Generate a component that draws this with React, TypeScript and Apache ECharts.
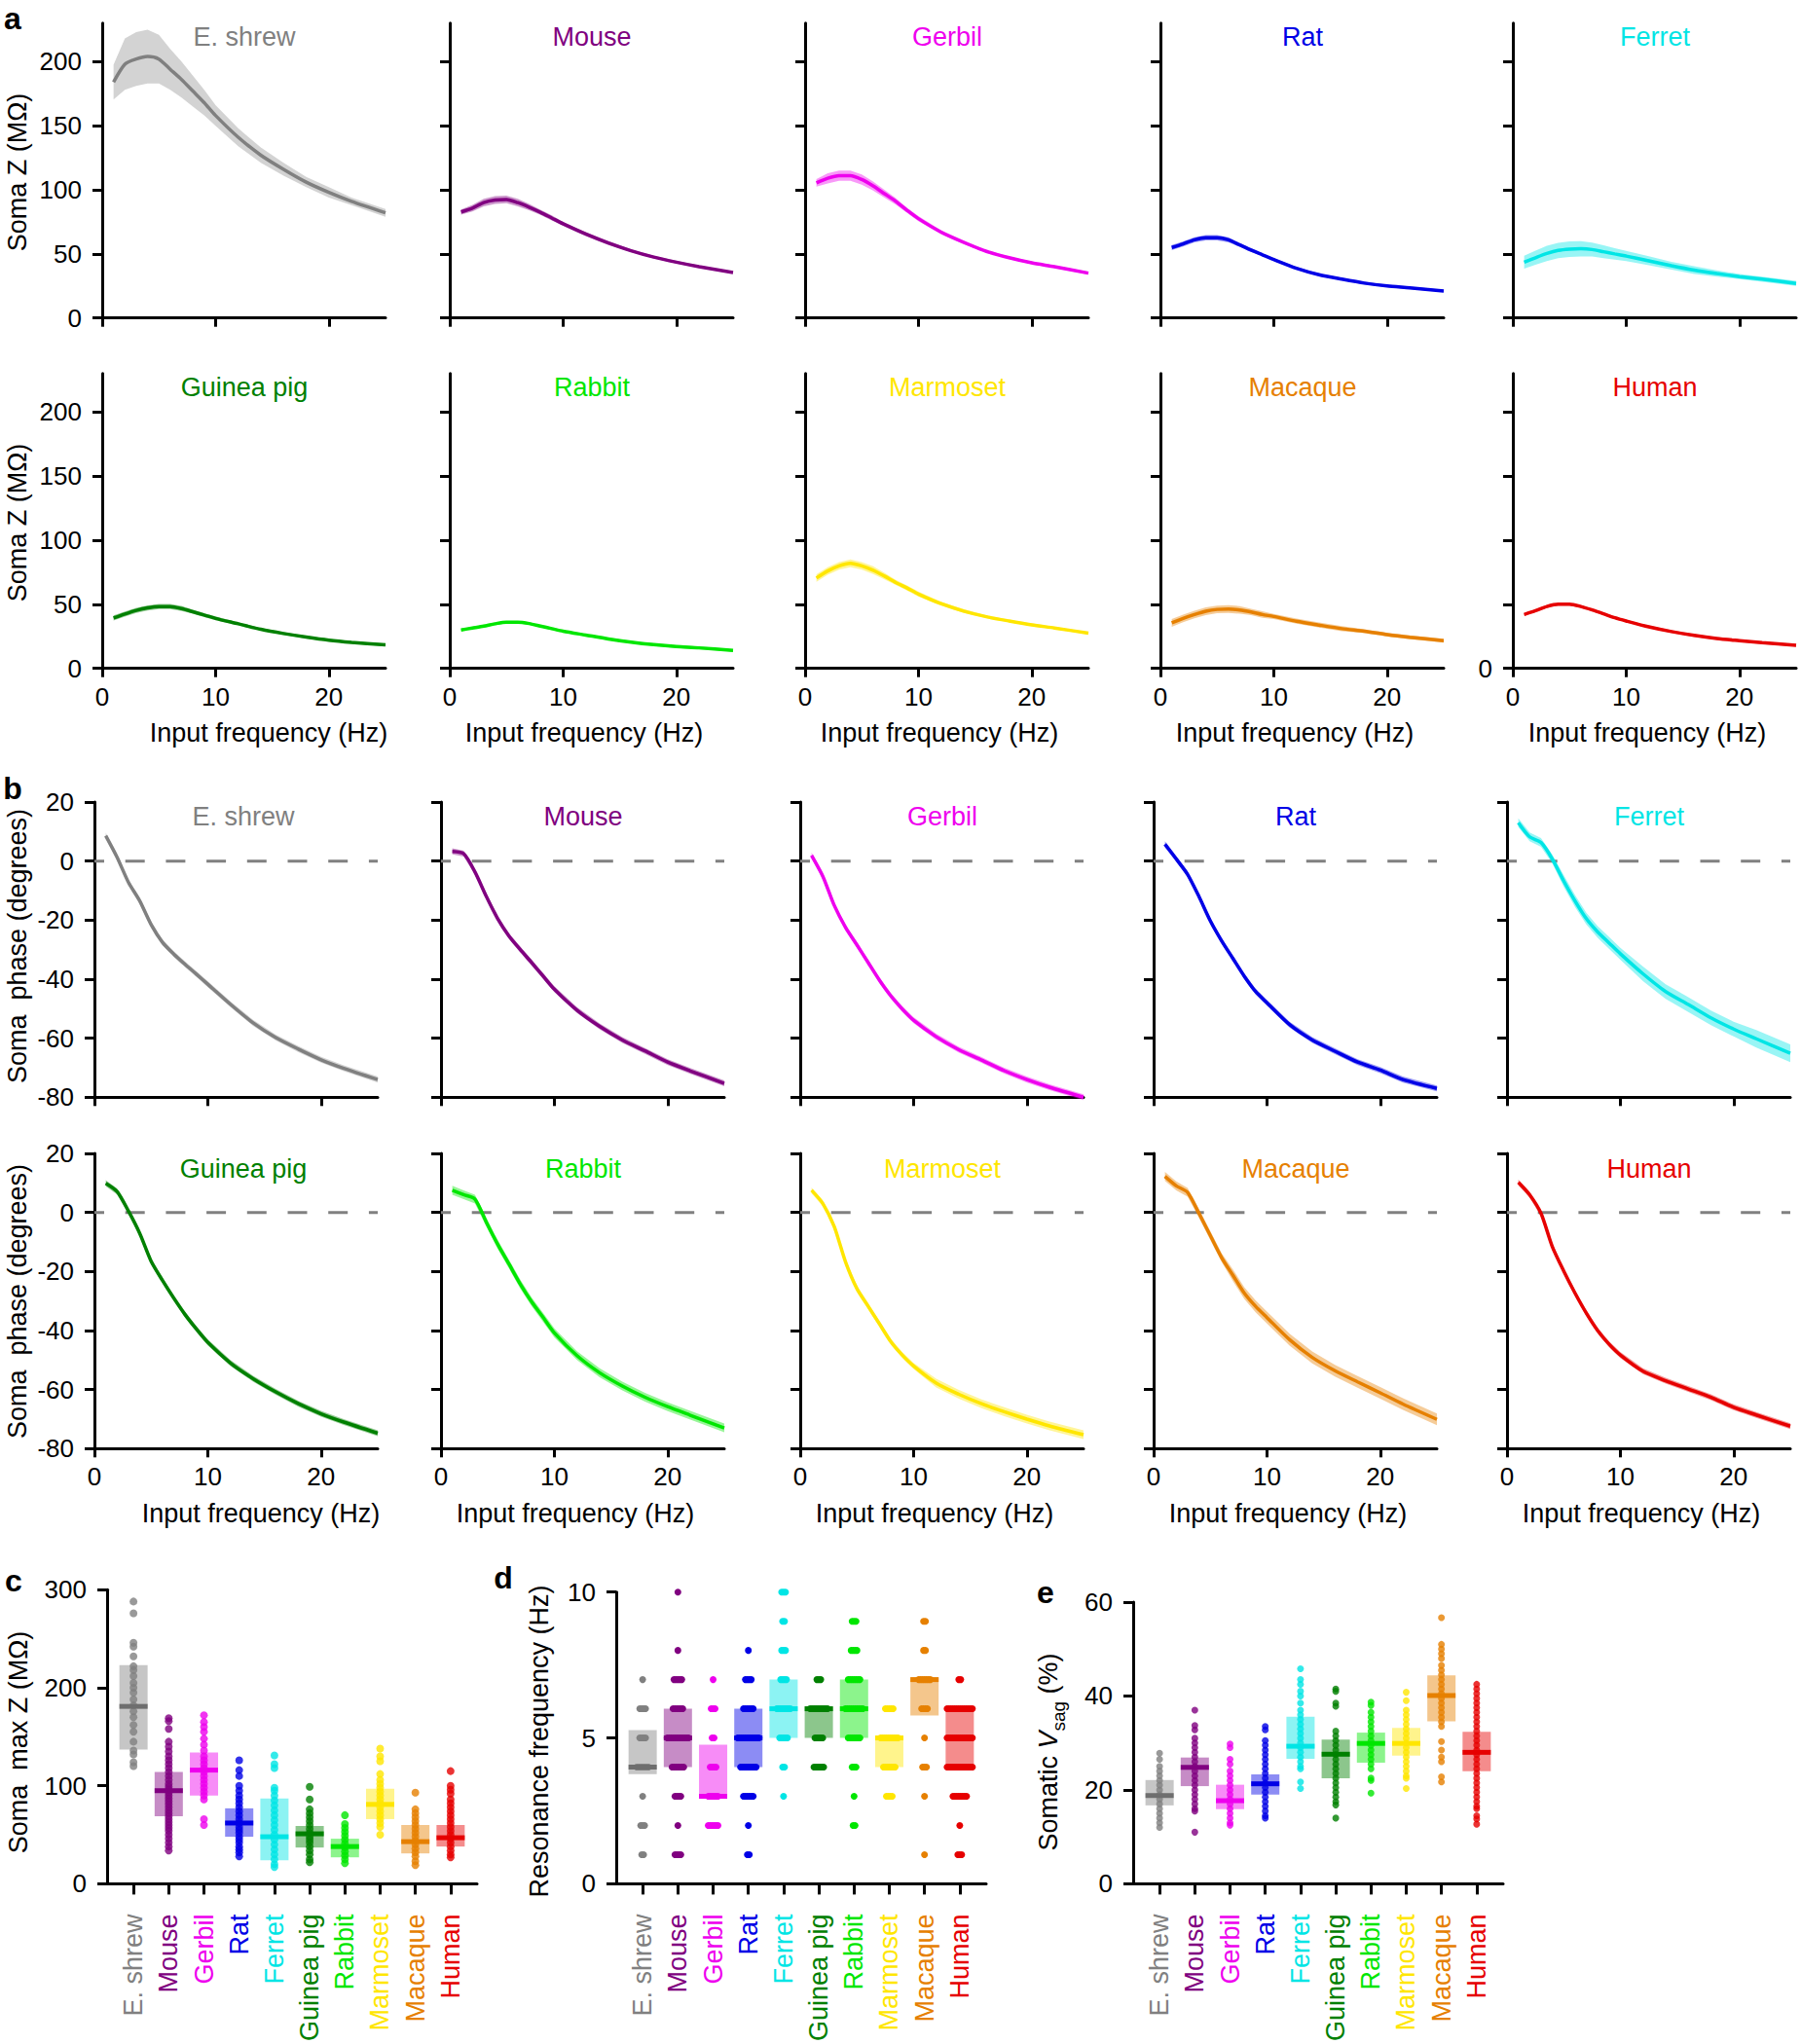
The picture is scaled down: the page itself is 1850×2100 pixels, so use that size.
import React, { useEffect, useRef } from "react";
import * as echarts from "echarts";

// ---------- categories ----------
const SPECIES = ["E. shrew", "Mouse", "Gerbil", "Rat", "Ferret", "Guinea pig", "Rabbit", "Marmoset", "Macaque", "Human"];
const COLORS = ["#808080", "#800080", "#ee00ee", "#0000e6", "#00e5e5", "#008000", "#00e600", "#ffe600", "#e68000", "#e60000"];
const FREQ = [1, 2, 3, 4, 5, 6, 7, 8, 9, 10, 12, 14, 16, 18, 20, 22, 25];

// ---------- panel a: soma impedance (MOhm) ----------
const zShrew = [184, 198, 202, 204, 202, 194, 186, 177, 168, 158, 141, 127, 116, 106, 98, 91, 82];
const zMouse = [82.7, 85.7, 90, 92, 92.5, 90, 86.5, 82.5, 78, 73.5, 65.5, 58.5, 52.5, 47.5, 43.5, 40, 35.5];
const zGerbil = [105.4, 109, 111, 111, 108, 103, 97, 91, 84, 77.5, 67, 59, 52, 47, 43, 40, 35];
const zRat = [55, 57.8, 61, 62.6, 62.6, 61, 57, 53, 49.3, 45.6, 38.8, 33.7, 30.3, 27.2, 25, 23.5, 21];
const zFerret = [43.5, 47, 50.3, 52.7, 53.7, 54, 53.4, 51.7, 50, 48.3, 44.6, 40.8, 37.4, 34.7, 32.3, 30.3, 27];
const zGuinea = [39.3, 42.4, 45.2, 47.2, 48.2, 48.2, 46.7, 44.2, 41.6, 39, 34.8, 30.5, 27.2, 24.4, 22, 20.3, 18.3];
const zRabbit = [30, 31.5, 33, 34.8, 36, 36, 35, 33, 31, 29, 26, 23, 20.5, 18.5, 17, 16, 14];
const zMarmoset = [70.5, 76, 80, 82, 80, 76.6, 72, 67, 62.7, 58, 50.5, 44.7, 40.3, 37, 34, 31.5, 27.5];
const zMacaque = [35.5, 39, 42, 44.6, 46, 46.3, 45.6, 44, 42, 40.5, 36.8, 33.8, 31, 29, 26.4, 24.3, 21.6];
const zHuman = [42, 45, 48.3, 50, 50, 48.3, 45.6, 42.6, 39.5, 37, 32.4, 28.7, 25.7, 23.3, 21.6, 20, 18];

const zSemShrew = [13.5, 20, 21, 21, 19, 16, 14, 12, 10, 8, 7, 6, 5, 4, 4, 3, 3];
const zSemMouse = [2, 2.5, 3, 3, 3, 3, 2.5, 2, 2, 1.5, 1.5, 1.5, 1, 1, 1, 1, 1];
const zSemGerbil = [3, 4, 4, 4, 4, 3.5, 3, 2.5, 2, 2, 1.5, 1.5, 1, 1, 1, 1, 1];
const zSemRat = [2, 2, 2, 2, 2, 2, 1.5, 1.5, 1, 1, 1, 1, 1, 1, 1, 1, 1];
const zSemFerret = [5, 5.5, 6, 6, 6, 6, 5.5, 5, 4.5, 4, 3.5, 3, 3, 2.5, 2, 2, 2];
const zSemGuinea = [2, 2, 2, 2, 2, 2, 2, 1.5, 1.5, 1.5, 1, 1, 1, 1, 1, 1, 1];
const zSemRabbit = [1, 1, 1, 1, 1, 1, 1, 1, 1, 1, 1, 1, 1, 1, 1, 1, 1];
const zSemMarmoset = [3, 3, 3, 3, 3, 3, 2.5, 2, 2, 2, 1.5, 1.5, 1, 1, 1, 1, 1];
const zSemMacaque = [3, 3, 3, 3, 3, 3, 3, 2.5, 2.5, 2, 2, 2, 2, 1.5, 1.5, 1.5, 1.5];
const zSemHuman = [1, 1, 1, 1, 1, 1, 1, 1, 1, 1, 1, 1, 1, 1, 1, 1, 1];

// ---------- panel b: soma phase (degrees) ----------
const pShrew = [8.6, 1.3, -7.2, -13.5, -21.5, -27.5, -31.5, -35, -38.3, -41.7, -48.5, -54.8, -59.8, -63.7, -67.3, -70.2, -74];
const pMouse = [3.3, 2.5, -3.7, -12, -19.5, -25.4, -30, -34.4, -38.9, -43.4, -50.5, -56, -60.6, -64.3, -68.1, -71.1, -75.3];
const pGerbil = [1.9, -5.2, -15, -22.5, -28.4, -34.4, -40.4, -45.7, -50.1, -53.9, -59.5, -63.9, -67.4, -71, -74, -76.6, -80];
const pRat = [5.7, 0.7, -4.5, -12, -20.2, -27, -33, -39, -44.2, -48, -55.4, -60.6, -64.4, -68.1, -70.8, -74, -77];
const pFerret = [13, 8.2, 6.3, 0.7, -6.7, -13.5, -19.5, -24, -27.7, -31.4, -38.2, -44.2, -48.6, -53.1, -56.9, -60.2, -65.1];
const pGuinea = [9.9, 7.1, 0.5, -7.1, -16.5, -23, -29, -34.6, -39.5, -44, -51, -56.3, -60.8, -64.8, -68.2, -71, -74.8];
const pRabbit = [7.5, 6, 4.5, -3.3, -10.8, -17.5, -24.3, -30.3, -35.5, -40.8, -48.5, -54.3, -58.8, -62.6, -65.8, -68.7, -73];
const pMarmoset = [7.5, 3, -4.8, -16.8, -25.8, -31.8, -37.8, -43.8, -48.3, -52, -57.8, -61.6, -64.8, -67.5, -70, -72.3, -75.3];
const pMacaque = [12.2, 9, 6.8, -0.3, -7.8, -15.3, -21.3, -27.3, -31.8, -35.6, -43.1, -49.1, -53.6, -57.4, -61.1, -64.9, -70.1];
const pHuman = [10.2, 6, -0.3, -11.6, -19.8, -27.3, -34.1, -40, -44.6, -48.3, -53.8, -57, -59.8, -62.6, -66, -68.6, -72.4];

const pSemShrew = [1, 1, 1, 1, 1, 1, 1, 1, 1, 1, 1, 1, 1, 1, 1, 1, 1];
const pSemMouse = [1, 1, 1, 1, 1, 1, 1, 1, 1, 1, 1, 1, 1, 1, 1, 1, 1];
const pSemGerbil = [1, 1, 1, 1, 1, 1, 1, 1, 1, 1, 1, 1, 1, 1, 1, 1, 1];
const pSemRat = [1, 1, 1, 1, 1, 1, 1, 1, 1, 1, 1, 1, 1, 1, 1, 1, 1];
const pSemFerret = [1.5, 1.5, 1.5, 1.5, 2, 2, 2, 2, 2, 2, 2.5, 2.5, 2.5, 2.5, 2.5, 3, 3];
const pSemGuinea = [1, 1, 1, 1, 1, 1, 1, 1, 1, 1, 1, 1, 1, 1, 1, 1, 1];
const pSemRabbit = [1.5, 1.5, 1.5, 1.5, 1.5, 1.5, 1.5, 1.5, 1.5, 1.5, 1.5, 1.5, 1.5, 1.5, 1.5, 1.5, 1.5];
const pSemMarmoset = [1, 1, 1, 1, 1, 1, 1, 1, 1, 1, 1.5, 1.5, 1.5, 1.5, 1.5, 1.5, 1.5];
const pSemMacaque = [1.5, 1.5, 1.5, 1.5, 1.5, 1.5, 2, 2, 2, 2, 2, 2, 2, 2, 2, 2, 2];
const pSemHuman = [1, 1, 1, 1, 1, 1, 1, 1, 1, 1, 1, 1, 1, 1, 1, 1, 1];

const Z_MEAN = [zShrew, zMouse, zGerbil, zRat, zFerret, zGuinea, zRabbit, zMarmoset, zMacaque, zHuman];
const Z_SEM = [zSemShrew, zSemMouse, zSemGerbil, zSemRat, zSemFerret, zSemGuinea, zSemRabbit, zSemMarmoset, zSemMacaque, zSemHuman];
const P_MEAN = [pShrew, pMouse, pGerbil, pRat, pFerret, pGuinea, pRabbit, pMarmoset, pMacaque, pHuman];
const P_SEM = [pSemShrew, pSemMouse, pSemGerbil, pSemRat, pSemFerret, pSemGuinea, pSemRabbit, pSemMarmoset, pSemMacaque, pSemHuman];

// ---------- panel c: soma max Z (MOhm) ----------
const cShrew = [288, 276, 246, 242, 232, 222, 218, 212, 205, 200, 195, 188, 182, 176, 170, 162, 155, 145, 136, 132, 124, 120];
const cMouse = [169, 166, 158, 145, 140, 135, 130, 126, 122, 118, 114, 110, 106, 102, 99, 96, 93, 90, 87, 84, 81, 78, 75, 72, 69, 66, 63, 60, 57, 54, 50, 46, 42, 38, 34];
const cGerbil = [172, 165, 160, 155, 148, 142, 136, 130, 126, 122, 118, 114, 110, 106, 102, 98, 94, 90, 86, 66, 60];
const cRat = [126, 116, 110, 100, 95, 90, 86, 82, 78, 74, 70, 66, 62, 58, 55, 52, 48, 45, 42, 38, 35, 32, 28];
const cFerret = [131, 122, 118, 98, 95, 90, 85, 80, 75, 70, 65, 60, 55, 50, 45, 40, 35, 30, 25, 20, 17];
const cGuinea = [99, 86, 76, 72, 68, 64, 60, 56, 52, 48, 45, 42, 38, 34, 30, 25, 22];
const cRabbit = [70, 61, 57, 53, 49, 45, 41, 37, 33, 29, 25, 21];
const cMarmoset = [138, 130, 125, 112, 106, 102, 98, 94, 90, 86, 82, 78, 74, 70, 66, 62, 58, 50];
const cMacaque = [93, 76, 72, 68, 64, 60, 56, 52, 48, 44, 40, 36, 32, 28, 23, 19];
const cHuman = [115, 100, 96, 92, 86, 82, 78, 74, 70, 66, 62, 58, 54, 50, 46, 42, 38, 34, 30, 27];
const C_POINTS = [cShrew, cMouse, cGerbil, cRat, cFerret, cGuinea, cRabbit, cMarmoset, cMacaque, cHuman];
const cMedian = [181, 95, 116, 62, 48, 51, 38, 81, 43, 47];
const cQ1 = [137, 69, 90, 48, 24, 37, 27, 66, 31, 38];
const cQ3 = [223, 114, 134, 77, 87, 59, 46, 97, 60, 60];

// ---------- panel d: resonance frequency (Hz), [value, count] ----------
const dShrew = [[7, 1], [6, 4], [5, 4], [4, 7], [3, 1], [2, 3], [1, 2]];
const dMouse = [[10, 1], [8, 1], [7, 5], [6, 6], [5, 12], [4, 7], [3, 4], [2, 1], [1, 4]];
const dGerbil = [[7, 1], [6, 3], [5, 2], [4, 4], [3, 6], [2, 6]];
const dRat = [[8, 1], [7, 4], [6, 6], [5, 12], [4, 9], [3, 6], [2, 1], [1, 2]];
const dFerret = [[10, 3], [9, 2], [8, 3], [7, 4], [6, 8], [5, 5], [4, 2], [3, 1]];
const dGuinea = [[7, 3], [6, 10], [5, 5], [4, 6]];
const dRabbit = [[9, 3], [8, 4], [7, 7], [6, 10], [5, 7], [4, 3], [3, 1], [2, 2]];
const dMarmoset = [[6, 5], [5, 10], [4, 7], [3, 4]];
const dMacaque = [[9, 2], [8, 2], [7, 7], [6, 4], [5, 1], [4, 3], [3, 1], [1, 1]];
const dHuman = [[7, 2], [6, 14], [5, 14], [4, 14], [3, 8], [2, 1], [1, 3]];
const D_COUNTS = [dShrew, dMouse, dGerbil, dRat, dFerret, dGuinea, dRabbit, dMarmoset, dMacaque, dHuman];
const dMedian = [4, 5, 3, 5, 6, 6, 6, 5, 7, 5];
const dQ1 = [3.76, 4, 2.95, 4, 5, 5, 5, 4, 5.77, 4];
const dQ3 = [5.27, 6, 4.77, 6, 7, 6.08, 7, 5.07, 7.07, 6];

// ---------- panel e: somatic Vsag (%) ----------
const eShrew = [27.8, 26.5, 25, 24, 23, 22, 21, 20, 19, 18, 17, 16, 15, 14, 13, 12];
const eMouse = [37, 33.7, 32.8, 31, 30, 29, 28, 27, 26, 25, 24, 23, 22, 21, 20, 19, 18, 17, 16, 15.5, 11];
const eGerbil = [29.8, 29, 26.5, 25.5, 24, 23, 22, 21, 20, 19, 18, 17, 16, 15, 14, 13, 12.5];
const eRat = [33.5, 32.8, 30.5, 29.5, 28.5, 27.5, 26.5, 25.5, 24.5, 23.5, 22.5, 21.5, 20.5, 19.5, 18.5, 17.5, 16.5, 15.5, 14.5, 14];
const eFerret = [45.8, 43.5, 42.5, 41, 40, 38.5, 37, 36, 35, 34, 33, 32, 31, 30, 29, 28, 27, 26, 25, 24.5, 21.7, 20.3];
const eGuinea = [41.5, 41, 38.5, 37.8, 32.5, 31.5, 30.5, 29.5, 28.5, 27.5, 26.5, 25.5, 24.5, 23.5, 22.5, 21.5, 20.5, 19.5, 18.5, 17.5, 16.8, 14];
const eRabbit = [38.7, 38, 36.5, 35.5, 34.5, 33.5, 32.5, 31.5, 30.5, 29.5, 28.5, 27.5, 26.5, 25.5, 24.5, 22.5, 22, 19.3];
const eMarmoset = [40.8, 39, 37, 36, 35, 34, 33, 32, 31, 30, 29, 28, 27, 26, 25, 24, 23, 22.5, 20.3];
const eMacaque = [56.7, 51, 50, 49, 48, 46.5, 45.5, 44.5, 43.5, 42.5, 41.5, 40.5, 39.5, 38.5, 37.5, 36.5, 35.5, 34.5, 33.5, 30.3, 28.5, 27, 26, 22.8, 21.7];
const eHuman = [42.5, 41.5, 40.5, 39.5, 38.5, 37.5, 36.5, 35.5, 34.5, 33.5, 32.5, 31.5, 30.5, 29.5, 28.5, 27.5, 26.5, 25.5, 24.5, 23.5, 22.5, 21.5, 20.5, 19.5, 18.5, 17.5, 16.5, 16, 14.5, 13.8, 12.7];
const E_POINTS = [eShrew, eMouse, eGerbil, eRat, eFerret, eGuinea, eRabbit, eMarmoset, eMacaque, eHuman];
const eMedian = [18.8, 24.8, 17.7, 21.3, 29.3, 27.6, 29.9, 29.9, 40.1, 28.0];
const eQ1 = [16.7, 20.8, 15.9, 19.0, 26.6, 22.5, 25.8, 27.3, 34.6, 24.0];
const eQ3 = [22.1, 26.9, 21.1, 23.3, 35.6, 30.7, 32.2, 33.2, 44.4, 32.4];

// ---------- tick values ----------
const FREQ_TICKS = [0, 10, 20];
const Z_TICKS = [0, 50, 100, 150, 200];
const CAT_TICKS = [0, 1, 2, 3, 4, 5, 6, 7, 8, 9];

// ---------- layout ----------
const FONT = '"Liberation Sans", Arial, Helvetica, sans-serif';
const AXL = { color: "#000", width: 3 };
const A_X = [105, 462, 827, 1192, 1554];
const B_X = [97, 453, 822, 1185, 1548];
const A_TOP = [23.8, 383.8];
const A_H = 302.9;
const B_TOP = [824, 1185];
const B_H = 303.3;
const PW = 291;
const TICK_FS = 26;
const NAME_FS = 27;

function rgba(hex: string, a: number) {
  const n = parseInt(hex.slice(1), 16);
  return `rgba(${(n >> 16) & 255},${(n >> 8) & 255},${n & 255},${a})`;
}

function txt(text: string, x: number, y: number, o: any = {}) {
  return {
    type: "text",
    x,
    y,
    rotation: o.rotation || 0,
    silent: true,
    z: 100,
    style: {
      text,
      fill: o.color || "#000",
      fontSize: o.size || NAME_FS,
      fontFamily: FONT,
      fontWeight: o.bold ? "bold" : "normal",
      align: "center",
      verticalAlign: "middle",
    },
  };
}

function buildOption() {
  const o: any = {
    animation: false,
    backgroundColor: "#fff",
    textStyle: { fontFamily: FONT },
    grid: [],
    xAxis: [],
    yAxis: [],
    series: [],
    graphic: [],
  };

  const addCurvePanel = (kind: "a" | "b", row: number, col: number) => {
    const sp = row * 5 + col;
    const gi = o.grid.length;
    const left = kind === "a" ? A_X[col] : B_X[col];
    const top = kind === "a" ? A_TOP[row] : B_TOP[row];
    const height = kind === "a" ? A_H : B_H;
    o.grid.push({ left, top, width: PW, height });
    o.xAxis.push({
      gridIndex: gi,
      type: "value",
      min: 0,
      max: 25,
      axisLine: { onZero: false, lineStyle: AXL },
      axisTick: { customValues: FREQ_TICKS, length: 9, lineStyle: AXL },
      axisLabel: { show: row === 1, customValues: FREQ_TICKS, fontSize: TICK_FS, color: "#000", margin: 16, fontFamily: FONT },
      splitLine: { show: false },
    });
    if (kind === "a") {
      const showY = col === 0 || (row === 1 && col === 4);
      const labelVals = col === 0 ? Z_TICKS : [0];
      o.yAxis.push({
        gridIndex: gi,
        type: "value",
        min: 0,
        max: 230,
        axisLine: { onZero: false, lineStyle: AXL },
        axisTick: { customValues: Z_TICKS, length: 10, lineStyle: AXL },
        axisLabel: { show: showY, customValues: labelVals, fontSize: TICK_FS, color: "#000", margin: 21, fontFamily: FONT },
        splitLine: { show: false },
      });
    } else {
      o.yAxis.push({
        gridIndex: gi,
        type: "value",
        min: -80,
        max: 20,
        interval: 20,
        axisLine: { onZero: false, lineStyle: AXL },
        axisTick: { length: 10, lineStyle: AXL },
        axisLabel: { show: col === 0, fontSize: TICK_FS, color: "#000", margin: 21, fontFamily: FONT },
        splitLine: { show: false },
      });
    }
    const mean = kind === "a" ? Z_MEAN[sp] : P_MEAN[sp];
    const sem = kind === "a" ? Z_SEM[sp] : P_SEM[sp];
    const color = COLORS[sp];
    const bandData = FREQ.map((f, i) => [f, mean[i] - sem[i], mean[i] + sem[i]]);
    if (kind === "b") {
      o.series.push({
        type: "line",
        xAxisIndex: gi,
        yAxisIndex: gi,
        data: [[0, 0], [25, 0]],
        symbol: "none",
        silent: true,
        z: 1,
        lineStyle: { color: "#808080", width: 3, type: [20, 21.7], dashOffset: 10 },
      });
    }
    o.series.push({
      type: "custom",
      xAxisIndex: gi,
      yAxisIndex: gi,
      data: bandData,
      silent: true,
      z: 2,
      renderItem: (params: any, api: any) => {
        if (params.dataIndex !== 0) return null;
        const up = bandData.map((d) => api.coord([d[0], d[2]]));
        const lo = bandData.map((d) => api.coord([d[0], d[1]])).reverse();
        return {
          type: "polygon",
          shape: { points: up.concat(lo) },
          style: { fill: rgba(color, sp === 0 ? 0.35 : 0.4) },
        };
      },
    });
    o.series.push({
      type: "line",
      xAxisIndex: gi,
      yAxisIndex: gi,
      data: FREQ.map((f, i) => [f, mean[i]]),
      symbol: "none",
      smooth: 0.25,
      silent: true,
      z: 3,
      lineStyle: { color, width: 3.5 },
    });
    const titleY = kind === "a" ? (row === 0 ? 38 : 398) : row === 0 ? 839 : 1201;
    const titleX = kind === "b" && col === 0 ? 250 : left + 146;
    o.graphic.push(txt(SPECIES[sp], titleX, titleY, { color }));
    if (row === 1) {
      const nx = col === 0 ? (kind === "a" ? 276 : 268) : left + 138;
      const ny = kind === "a" ? 753 : 1555;
      o.graphic.push(txt("Input frequency (Hz)", nx, ny));
    }
  };

  for (let r = 0; r < 2; r++) for (let c = 0; c < 5; c++) addCurvePanel("a", r, c);
  for (let r = 0; r < 2; r++) for (let c = 0; c < 5; c++) addCurvePanel("b", r, c);

  // ---------- bottom panels ----------
  const addCatPanel = (
    left: number,
    top: number,
    height: number,
    ymax: number,
    yint: number,
    med: number[],
    q1: number[],
    q3: number[],
    pts: number[][] | null,
    counts: number[][][] | null,
    dot: number
  ) => {
    const gi = o.grid.length;
    o.grid.push({ left, top, width: 380, height });
    o.xAxis.push({
      gridIndex: gi,
      type: "value",
      min: -0.75,
      max: 9.75,
      axisLine: { onZero: false, lineStyle: AXL },
      axisTick: { customValues: CAT_TICKS, length: 11, lineStyle: AXL },
      axisLabel: {
        customValues: CAT_TICKS,
        rotate: 90,
        margin: 31,
        fontSize: NAME_FS,
        fontFamily: FONT,
        formatter: (v: number) => SPECIES[Math.round(Number(v))] || "",
        color: (v: any) => COLORS[Math.round(Number(v))] || "#000",
      },
      splitLine: { show: false },
    });
    o.yAxis.push({
      gridIndex: gi,
      type: "value",
      min: 0,
      max: ymax,
      interval: yint,
      axisLine: { onZero: false, lineStyle: AXL },
      axisTick: { length: 10, lineStyle: AXL },
      axisLabel: { fontSize: TICK_FS, color: "#000", margin: 21, fontFamily: FONT },
      splitLine: { show: false },
    });
    const boxData = SPECIES.map((_, i) => [i, q1[i], q3[i], med[i]]);
    o.series.push({
      type: "custom",
      xAxisIndex: gi,
      yAxisIndex: gi,
      data: boxData,
      silent: true,
      z: 2,
      renderItem: (params: any, api: any) => {
        const i = api.value(0);
        const p1 = api.coord([i, api.value(1)]);
        const p3 = api.coord([i, api.value(2)]);
        return {
          type: "rect",
          shape: { x: p1[0] - 14.5, y: p3[1], width: 29, height: p1[1] - p3[1] },
          style: { fill: rgba(COLORS[i], 0.45) },
        };
      },
    });
    if (pts) {
      const data: any[] = [];
      pts.forEach((arr, i) => arr.forEach((v) => data.push({ value: [i, v], itemStyle: { color: COLORS[i] } })));
      o.series.push({
        type: "scatter",
        xAxisIndex: gi,
        yAxisIndex: gi,
        data,
        symbolSize: dot,
        silent: true,
        z: 3,
      });
    }
    if (counts) {
      const data: number[][] = [];
      counts.forEach((arr, i) => arr.forEach(([v, n]) => data.push([i, v, n])));
      o.series.push({
        type: "custom",
        xAxisIndex: gi,
        yAxisIndex: gi,
        data,
        silent: true,
        z: 3,
        renderItem: (params: any, api: any) => {
          const i = api.value(0);
          const n = api.value(2);
          const p = api.coord([i, api.value(1)]);
          const children: any[] = [];
          for (let k = 0; k < n; k++) {
            children.push({
              type: "circle",
              shape: { cx: p[0] + (k - (n - 1) / 2) * 2, cy: p[1], r: dot / 2 },
              style: { fill: COLORS[i] },
            });
          }
          return { type: "group", children };
        },
      });
    }
    o.series.push({
      type: "custom",
      xAxisIndex: gi,
      yAxisIndex: gi,
      data: boxData,
      silent: true,
      z: 4,
      renderItem: (params: any, api: any) => {
        const i = api.value(0);
        const pm = api.coord([i, api.value(3)]);
        return {
          type: "rect",
          shape: { x: pm[0] - 14.5, y: pm[1] - 2.5, width: 29, height: 5 },
          style: { fill: i === 0 ? "#6e6e6e" : COLORS[i] },
        };
      },
    });
  };

  addCatPanel(110, 1633.3, 304, 300, 100, cMedian, cQ1, cQ3, C_POINTS, null, 8);
  addCatPanel(633, 1635.7, 301.6, 10, 5, dMedian, dQ1, dQ3, null, D_COUNTS, 7);
  addCatPanel(1164, 1646, 303, 60, 20, eMedian, eQ1, eQ3, E_POINTS, null, 7);

  // ---------- axis names & panel letters ----------
  const R = Math.PI / 2;
  o.graphic.push(txt("Soma Z (MΩ)", 18, 177, { rotation: R }));
  o.graphic.push(txt("Soma Z (MΩ)", 18, 537, { rotation: R }));
  o.graphic.push(txt("Soma  phase (degrees)", 18, 972, { rotation: R }));
  o.graphic.push(txt("Soma  phase (degrees)", 18, 1337, { rotation: R }));
  o.graphic.push(txt("Soma  max Z (MΩ)", 19, 1790, { rotation: R }));
  o.graphic.push(txt("Resonance frequency (Hz)", 554, 1789, { rotation: R }));
  o.graphic.push({
    type: "text",
    x: 1077,
    y: 1800,
    rotation: R,
    silent: true,
    z: 100,
    style: {
      text: "{n|Somatic }{i|V}{s|sag}{n| (%)}",
      fill: "#000",
      fontFamily: FONT,
      fontSize: NAME_FS,
      align: "center",
      verticalAlign: "middle",
      rich: {
        n: { fontSize: NAME_FS, fontFamily: FONT, lineHeight: 40, verticalAlign: "middle" },
        i: { fontSize: NAME_FS, fontFamily: FONT, fontStyle: "italic", lineHeight: 40, verticalAlign: "middle" },
        s: { fontSize: 19, fontFamily: FONT, lineHeight: 40, verticalAlign: "bottom" },
      },
    },
  });

  o.graphic.push(txt("a", 13, 19, { bold: true, size: 32 }));
  o.graphic.push(txt("b", 13, 810, { bold: true, size: 32 }));
  o.graphic.push(txt("c", 14, 1624, { bold: true, size: 32 }));
  o.graphic.push(txt("d", 517, 1621, { bold: true, size: 32 }));
  o.graphic.push(txt("e", 1074, 1636, { bold: true, size: 32 }));

  return o;
}

export default function App() {
  const ref = useRef<HTMLDivElement>(null);
  useEffect(() => {
    if (!ref.current) return;
    const chart = echarts.init(ref.current, null, { renderer: "svg", width: 1850, height: 2100 });
    chart.setOption(buildOption());
    return () => chart.dispose();
  }, []);
  return (
    <div
      ref={ref}
      style={{ position: "fixed", left: 0, top: 0, width: 1850, height: 2100, background: "#fff" }}
    />
  );
}
